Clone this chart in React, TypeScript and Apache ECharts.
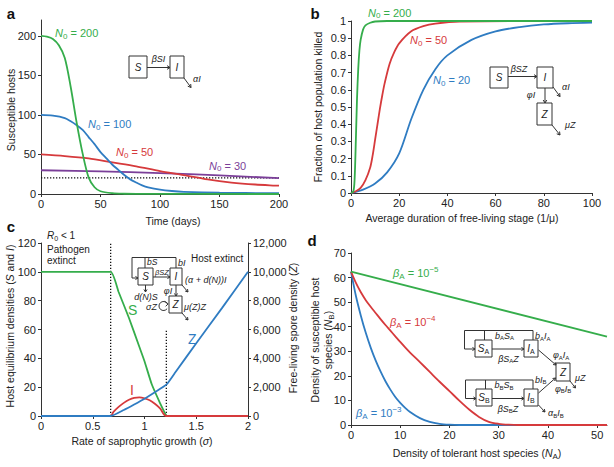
import React, { useEffect, useRef } from 'react';
import * as echarts from 'echarts';

// ---------- Panel a: susceptible hosts vs time ----------
const aTime200 = [0, 5, 10, 15, 20, 25, 30, 35, 40, 45, 50, 60, 70, 80, 200];
const aHosts200 = [200, 199, 196, 188, 172, 135, 90, 51, 21, 8.5, 3.5, 1, 0.3, 0.1, 0];
const aTime100 = [0, 10, 20, 25, 30, 35, 40, 45, 50, 55, 60, 65, 70, 75, 80, 85, 90, 100, 110, 120, 150, 200];
const aHosts100 = [100, 99, 96, 92, 87, 81, 72, 63, 53, 45, 37, 30.5, 24, 18.5, 14.5, 11, 8.5, 5.5, 3.8, 2.8, 1.6, 1];
const aTime50 = [0, 20, 40, 60, 80, 100, 120, 140, 160, 180, 200];
const aHosts50 = [50, 48, 45, 40, 35, 29, 24, 18.5, 14.5, 12, 10.5];
const aTime30 = [0, 50, 100, 150, 200];
const aHosts30 = [30, 28.5, 26.5, 23.5, 20];
const aThreshold = 20.5;
const aTicksY = [0, 50, 100, 150, 200];

// ---------- Panel b: fraction killed vs free-living duration ----------
const bDur200 = [0, 1, 1.5, 2, 2.5, 3, 3.5, 4, 5, 6, 8, 10, 15, 100];
const bKill200 = [0, 0.01, 0.08, 0.3, 0.55, 0.72, 0.83, 0.89, 0.95, 0.975, 0.99, 0.997, 1, 1];
const bDur50 = [0, 2, 4, 6, 8, 9, 10, 11, 12, 13, 14, 16, 18, 20, 25, 30, 35, 45, 100];
const bKill50 = [0, 0.01, 0.03, 0.075, 0.15, 0.22, 0.31, 0.4, 0.49, 0.57, 0.64, 0.75, 0.82, 0.87, 0.94, 0.97, 0.985, 0.997, 1];
const bDur20 = [0, 5, 10, 15, 20, 25, 30, 35, 40, 50, 60, 70, 80, 90, 100];
const bKill20 = [0, 0.02, 0.055, 0.12, 0.23, 0.43, 0.6, 0.72, 0.8, 0.89, 0.94, 0.965, 0.98, 0.987, 0.99];

// ---------- Panel c: equilibria vs saprophytic growth ----------
const cSigmaS = [0, 0.673, 0.75, 0.85, 0.95, 1.0, 1.07, 1.15, 1.211];
const cS = [100, 100, 86, 68, 48, 38, 22, 9, 0];
const cSigmaI = [0, 0.673, 0.7, 0.75, 0.8, 0.85, 0.9, 0.95, 1.0, 1.05, 1.1, 1.15, 1.211, 2];
const cI = [0, 0, 2.8, 6.3, 9.1, 11.3, 12.6, 12.9, 12.3, 10.9, 8.5, 5.3, 0, 0];
const cSigmaZ = [0, 0.673, 0.8, 0.9, 1.0, 1.1, 1.211, 1.3, 1.5, 1.75, 2];
const cZ = [0, 0, 420, 800, 1200, 1650, 2170, 3050, 5050, 7500, 10000];
const cPathogenLimit = 0.673;
const cHostLimit = 1.211;
const cHostLimitTop = 60;

// ---------- Panel d: susceptible host density vs tolerant host density ----------
const dNA = [0, 1, 2, 3, 4, 5, 6, 7, 8, 9, 10, 11, 12, 14, 16, 18, 20, 22, 24, 26, 28, 30, 32, 34, 40, 52];
const dBeta3 = [62.4, 52.5, 44.5, 37.5, 31.5, 26.3, 21.8, 17.8, 14.4, 11.4, 9, 7, 5.3, 2.8, 1.3, 0.5, 0.15, 0, 0, 0, 0, 0, 0, 0, 0, 0];
const dBeta4 = [62.4, 57.8, 54, 50.8, 48.1, 45.6, 43.1, 40.7, 38.4, 36.1, 33.8, 31.6, 29.5, 25.6, 21.6, 17.6, 13.8, 9.9, 6.3, 3.3, 1.3, 0.5, 0.15, 0, 0, 0];
const dNA5 = [0, 52];
const dBeta5 = [62.4, 36];
const dTicksX = [0, 10, 20, 30, 40, 50];

const FONT = "'Liberation Sans', Arial, Helvetica, sans-serif";
const AX = '#333';
const TXT = '#222';
const GREEN = '#35ad4b';
const BLUE = '#2f7cc2';
const RED = '#d63a3c';
const PURPLE = '#7b3f99';

const zip = (xs: number[], ys: number[]) => xs.map((x, i) => [x, ys[i]]);

type Seg = [string, string?];
function rtext(x: number, y: number, segs: Seg[], color = TXT, size = 11, align = 'left', extra: any = {}) {
  const L = Math.round(size * 1.45);
  const base = { fontSize: size, fontFamily: FONT, fill: color, lineHeight: L };
  const sub = Math.round(size * 0.72);
  const rich: any = {
    n: { ...base },
    i: { ...base, fontStyle: 'italic' },
    b: { ...base, fontWeight: 'bold' },
    sb: { ...base, fontSize: sub, padding: [Math.round(size * 0.55), 0, 0, 0] },
    isb: { ...base, fontSize: sub, fontStyle: 'italic', padding: [Math.round(size * 0.55), 0, 0, 0] },
    sp: { ...base, fontSize: sub, padding: [0, 0, Math.round(size * 0.75), 0] },
  };
  const text = segs.map(([t, s]) => `{${s || 'n'}|${t}}`).join('');
  return {
    type: 'text', x, y, z: 100, silent: true, ...extra,
    style: { text, rich, align, verticalAlign: 'middle', fontSize: size, fontFamily: FONT, fill: color },
  };
}

const box = (x: number, y: number, w: number, h: number) => ({
  type: 'rect', z: 90, shape: { x, y, width: w, height: h }, style: { fill: '#fff', stroke: AX, lineWidth: 1 },
});
const seg = (x1: number, y1: number, x2: number, y2: number) => ({
  type: 'line', z: 90, shape: { x1, y1, x2, y2 }, style: { stroke: AX, lineWidth: 1 },
});
const arrow = (x1: number, y1: number, x2: number, y2: number, s = 3.5) => {
  const a = Math.atan2(y2 - y1, x2 - x1);
  const p1 = [x2 - s * Math.cos(a - 0.55), y2 - s * Math.sin(a - 0.55)];
  const p2 = [x2 - s * Math.cos(a + 0.55), y2 - s * Math.sin(a + 0.55)];
  return [
    seg(x1, y1, x2, y2),
    { type: 'polyline', z: 90, shape: { points: [p1, [x2, y2], p2] }, style: { stroke: AX, lineWidth: 1, fill: 'none' } },
  ];
};

const D = 9; // diagram label size
const diagramA = [
  box(129, 56, 18, 22), box(170, 56, 14, 22),
  rtext(138, 67, [['S', 'i']], TXT, 10, 'center'),
  rtext(177, 67, [['I', 'i']], TXT, 10, 'center'),
  ...arrow(147, 67.5, 170, 67.5),
  rtext(158.5, 59, [['βSI', 'i']], TXT, D, 'center'),
  ...arrow(184, 78, 191, 87.5),
  rtext(193, 78.5, [['αI', 'i']], TXT, D, 'left'),
];

const diagramB = [
  box(490, 67, 18, 21), box(537, 67, 16, 21), box(537, 103, 15, 22),
  rtext(499, 77.5, [['S', 'i']], TXT, 10, 'center'),
  rtext(545, 77.5, [['I', 'i']], TXT, 10, 'center'),
  rtext(544.5, 114, [['Z', 'i']], TXT, 10, 'center'),
  ...arrow(508, 76.5, 537, 76.5),
  rtext(519, 69, [['βSZ', 'i']], TXT, D, 'center'),
  ...arrow(545, 88, 545, 103),
  rtext(531, 95, [['φI', 'i']], TXT, D, 'center'),
  ...arrow(553, 87, 560, 96.5),
  rtext(562, 87, [['αI', 'i']], TXT, D, 'left'),
  ...arrow(552, 125, 560, 135),
  rtext(565, 125, [['μZ', 'i']], TXT, D, 'left'),
];

const loopEnd = [163.5 + 4.5 * Math.cos(Math.PI * 1.8), 306 + 4.5 * Math.sin(Math.PI * 1.8)];
const diagramC = [
  seg(132, 257.5, 176, 257.5), seg(132, 257.5, 132, 278), ...arrow(132, 278, 138, 278, 3),
  seg(145, 257.5, 145, 268), seg(176, 257.5, 176, 268),
  box(138, 268, 15, 17), box(170, 268, 12, 17), box(169, 296, 13, 17),
  rtext(145.5, 276.5, [['S', 'i']], TXT, 10, 'center'),
  rtext(176, 276.5, [['I', 'i']], TXT, 10, 'center'),
  rtext(175.5, 304.5, [['Z', 'i']], TXT, 10, 'center'),
  rtext(147, 262, [['bS', 'i']], TXT, 8.5, 'left'),
  rtext(178, 262.5, [['bI', 'i']], TXT, D, 'left'),
  ...arrow(153, 277, 170, 277, 3),
  rtext(162, 272, [['βSZ', 'i']], TXT, 7.5, 'center'),
  ...arrow(145.5, 285, 145.5, 292, 3),
  rtext(146, 297, [['d(N)S', 'i']], TXT, D, 'center'),
  ...arrow(176, 285, 176, 296, 3),
  rtext(168, 290.5, [['φI', 'i']], TXT, D, 'center'),
  ...arrow(182, 285, 188, 292, 3),
  rtext(185, 280, [['(α + d(N))I', 'i']], TXT, D, 'left'),
  {
    type: 'arc', z: 90,
    shape: { cx: 163.5, cy: 306, r: 4.5, startAngle: Math.PI * 0.2, endAngle: Math.PI * 1.8, clockwise: true },
    style: { stroke: AX, lineWidth: 1, fill: 'none' },
  },
  {
    type: 'polyline', z: 90,
    shape: { points: [[loopEnd[0] - 2.5, loopEnd[1] - 2], [loopEnd[0] + 1, loopEnd[1] + 0.5], [loopEnd[0] - 1.5, loopEnd[1] + 3]] },
    style: { stroke: AX, lineWidth: 1, fill: 'none' },
  },
  rtext(151.5, 307, [['σZ', 'i']], TXT, D, 'center'),
  ...arrow(182, 313, 188, 320, 3),
  rtext(184, 307, [['μ(Z)Z', 'i']], TXT, D, 'left'),
];

const diagramD = [
  seg(464.5, 330.5, 533, 330.5), seg(464.5, 330.5, 464.5, 349), ...arrow(464.5, 349, 475, 349, 3),
  seg(484.5, 330.5, 484.5, 340), seg(533, 330.5, 533, 340),
  box(475, 340, 17, 17), box(524, 340, 14, 17), box(556, 363, 14, 18),
  rtext(483.5, 348.5, [['S', 'i'], ['A', 'sb']], TXT, 10, 'center'),
  rtext(531, 348.5, [['I', 'i'], ['A', 'sb']], TXT, 10, 'center'),
  rtext(563, 372, [['Z', 'i']], TXT, 10, 'center'),
  ...arrow(492, 349, 524, 349, 3),
  rtext(504.5, 335.5, [['b', 'i'], ['A', 'sb'], ['S', 'i'], ['A', 'sb']], TXT, D, 'center'),
  rtext(535, 336, [['b', 'i'], ['A', 'sb'], ['I', 'i'], ['A', 'sb']], TXT, D, 'left'),
  rtext(508.5, 358.5, [['βS', 'i'], ['A', 'sb'], ['Z', 'i']], TXT, D, 'center'),
  ...arrow(538.5, 350, 556, 365, 3),
  rtext(553, 355, [['φ', 'i'], ['A', 'sb'], ['I', 'i'], ['A', 'sb']], TXT, D, 'left'),
  ...arrow(570, 381, 575.5, 388, 3),
  rtext(575, 377.5, [['μZ', 'i']], TXT, D, 'left'),
  seg(465.5, 380, 533, 380), seg(465.5, 380, 465.5, 398.5), ...arrow(465.5, 398.5, 476, 398.5, 3),
  seg(485.5, 380, 485.5, 389), seg(533, 380, 533, 389),
  box(476, 389, 16, 17), box(524, 389, 14, 17),
  rtext(484, 397.5, [['S', 'i'], ['B', 'sb']], TXT, 10, 'center'),
  rtext(531, 397.5, [['I', 'i'], ['B', 'sb']], TXT, 10, 'center'),
  ...arrow(492, 398.5, 524, 398.5, 3),
  rtext(504, 385, [['b', 'i'], ['B', 'sb'], ['S', 'i'], ['B', 'sb']], TXT, D, 'center'),
  rtext(535, 379.5, [['bI', 'i'], ['B', 'sb']], TXT, D, 'left'),
  rtext(508, 408.5, [['βS', 'i'], ['B', 'sb'], ['Z', 'i']], TXT, D, 'center'),
  ...arrow(538.5, 393, 555.5, 378, 3),
  rtext(555, 388.5, [['φ', 'i'], ['B', 'sb'], ['I', 'i'], ['B', 'sb']], TXT, D, 'left'),
  ...arrow(538.5, 405, 545, 412, 3),
  rtext(548, 413, [['α', 'i'], ['B', 'sb'], ['I', 'i'], ['B', 'sb']], TXT, D, 'left'),
];

const T = 10.5; // axis title size
const R90 = { rotation: Math.PI / 2 };
const labels = [
  // panel letters
  rtext(11, 13, [['a', 'b']], '#111', 15, 'center'),
  rtext(315, 13, [['b', 'b']], '#111', 15, 'center'),
  rtext(11, 226.5, [['c', 'b']], '#111', 15, 'center'),
  rtext(312, 240, [['d', 'b']], '#111', 15, 'center'),
  // axis titles
  rtext(173, 221, [['Time (days)']], TXT, T, 'center'),
  rtext(11, 110, [['Susceptible hosts']], TXT, T, 'center', R90),
  rtext(462, 218, [['Average duration of free-living stage (1/μ)']], TXT, T, 'center'),
  rtext(318, 107, [['Fraction of host population killed']], TXT, T, 'center', R90),
  rtext(142, 441, [['Rate of saprophytic growth ('], ['σ', 'i'], [')']], TXT, T, 'center'),
  rtext(10, 326, [['Host equilibrium densities ('], ['S', 'i'], [' and '], ['I', 'i'], [')']], TXT, T, 'center', R90),
  rtext(293, 328, [['Free-living spore density ('], ['Z', 'i'], [')']], TXT, T, 'center', R90),
  rtext(477, 453, [['Density of tolerant host species ('], ['N', 'i'], ['A', 'sb'], [')']], TXT, T, 'center'),
  rtext(315, 340, [['Density of susceptible host']], TXT, T, 'center', R90),
  rtext(328, 340, [['species ('], ['N', 'i'], ['B', 'sb'], [')']], TXT, T, 'center', R90),
  // panel a curve labels
  rtext(55, 33, [['N', 'i'], ['0', 'sb'], [' = 200']], GREEN, 11),
  rtext(88, 124, [['N', 'i'], ['0', 'sb'], [' = 100']], BLUE, 11),
  rtext(116, 152, [['N', 'i'], ['0', 'sb'], [' = 50']], RED, 11),
  rtext(209, 165.5, [['N', 'i'], ['0', 'sb'], [' = 30']], PURPLE, 11),
  // panel b curve labels
  rtext(368, 12.5, [['N', 'i'], ['0', 'sb'], [' = 200']], GREEN, 11),
  rtext(410, 40, [['N', 'i'], ['0', 'sb'], [' = 50']], RED, 11),
  rtext(433, 80, [['N', 'i'], ['0', 'sb'], [' = 20']], BLUE, 11),
  // panel c texts
  rtext(47, 235, [['R', 'i'], ['0', 'sb'], [' < 1']], TXT, 10),
  rtext(47, 249.5, [['Pathogen']], TXT, 10),
  rtext(47, 260.5, [['extinct']], TXT, 10),
  rtext(191, 258.5, [['Host extinct']], TXT, 10),
  rtext(128, 310, [['S']], GREEN, 14),
  rtext(130, 390, [['I']], RED, 14),
  rtext(188, 338.5, [['Z']], BLUE, 14),
  // panel d curve labels
  rtext(393, 273, [['β', 'i'], ['A', 'sb'], [' = 10'], ['−5', 'sp']], GREEN, 11),
  rtext(390, 322, [['β', 'i'], ['A', 'sb'], [' = 10'], ['−4', 'sp']], RED, 11),
  rtext(356, 413, [['β', 'i'], ['A', 'sb'], [' = 10'], ['−3', 'sp']], BLUE, 11),
];

const axisBase = (extra: any, labelExtra: any = {}, tickExtra: any = {}) => ({
  type: 'value',
  axisLine: { show: true, onZero: false, lineStyle: { color: AX, width: 1 } },
  axisTick: { show: true, inside: false, length: 3, lineStyle: { color: AX, width: 1 }, ...tickExtra },
  splitLine: { show: false },
  axisLabel: { color: TXT, fontSize: 11, fontFamily: FONT, margin: 5, ...labelExtra },
  ...extra,
});

const line = (data: number[][], color: string, xi: number, yi: number, extra: any = {}) => ({
  type: 'line', data, xAxisIndex: xi, yAxisIndex: yi, showSymbol: false, symbol: 'none',
  smooth: 0.3, clip: false, silent: true,
  lineStyle: { color, width: 1.8 }, ...extra,
});
const dotted = (data: number[][], xi: number, yi: number) =>
  line(data, '#111', xi, yi, { smooth: false, lineStyle: { color: '#111', width: 1.3, type: [1.3, 1.7] } });

const option: any = {
  animation: false,
  backgroundColor: '#ffffff',
  grid: [
    { left: 41, top: 20, width: 238, height: 174 },
    { left: 351, top: 21, width: 241, height: 172 },
    { left: 41, top: 243, width: 207, height: 173 },
    { left: 351, top: 253, width: 256, height: 172 },
  ].map((g) => ({ ...g, containLabel: false, outerBoundsMode: 'none' })),
  xAxis: [
    axisBase({ gridIndex: 0, min: 0, max: 200, interval: 50 }, { margin: 4 }),
    axisBase({ gridIndex: 1, min: 0, max: 100, interval: 20 }, { margin: 4 }),
    axisBase({ gridIndex: 2, min: 0, max: 2, interval: 0.5 }, { margin: 4 }),
    axisBase({ gridIndex: 3, min: 0, max: 52, interval: 10 },
      { margin: 4, customValues: dTicksX, formatter: (v: number) => (v > 50 ? '' : String(v)) },
      { customValues: dTicksX }),
  ],
  yAxis: [
    axisBase({ gridIndex: 0, min: 0, max: 220, interval: 50 },
      { customValues: aTicksY, formatter: (v: number) => (v > 200 ? '' : String(v)) },
      { customValues: aTicksY }),
    axisBase({ gridIndex: 1, min: 0, max: 1, interval: 0.1 }),
    axisBase({ gridIndex: 2, min: 0, max: 120, interval: 20, position: 'left' }),
    axisBase({ gridIndex: 2, min: 0, max: 12000, interval: 2000, position: 'right' }),
    axisBase({ gridIndex: 3, min: 0, max: 70, interval: 10 }),
  ],
  series: [
    // a
    dotted([[0, aThreshold], [200, aThreshold]], 0, 0),
    line(zip(aTime30, aHosts30), PURPLE, 0, 0),
    line(zip(aTime50, aHosts50), RED, 0, 0),
    line(zip(aTime100, aHosts100), BLUE, 0, 0),
    line(zip(aTime200, aHosts200), GREEN, 0, 0),
    // b
    line(zip(bDur20, bKill20), BLUE, 1, 1),
    line(zip(bDur50, bKill50), RED, 1, 1),
    line(zip(bDur200, bKill200), GREEN, 1, 1),
    // c
    dotted([[cPathogenLimit, 0], [cPathogenLimit, 120]], 2, 2),
    dotted([[cHostLimit, 0], [cHostLimit, cHostLimitTop]], 2, 2),
    line(zip(cSigmaS, cS), GREEN, 2, 2, { smooth: 0.15 }),
    line(zip(cSigmaI, cI), RED, 2, 2, { smooth: 0.3 }),
    line(zip(cSigmaZ, cZ), BLUE, 2, 3, { smooth: 0.15 }),
    // d
    line(zip(dNA, dBeta3), BLUE, 3, 4),
    line(zip(dNA, dBeta4), RED, 3, 4),
    line(zip(dNA5, dBeta5), GREEN, 3, 4, { smooth: false }),
  ],
  graphic: { elements: [...labels, ...diagramA, ...diagramB, ...diagramC, ...diagramD] },
};

export default function App() {
  const ref = useRef<HTMLDivElement>(null);
  useEffect(() => {
    const chart = echarts.init(ref.current!, null, { renderer: 'svg' });
    chart.setOption(option);
    return () => chart.dispose();
  }, []);
  return (
    <div
      ref={ref}
      style={{ position: 'fixed', left: 0, top: 0, width: 614, height: 467, background: '#fff' }}
    />
  );
}
